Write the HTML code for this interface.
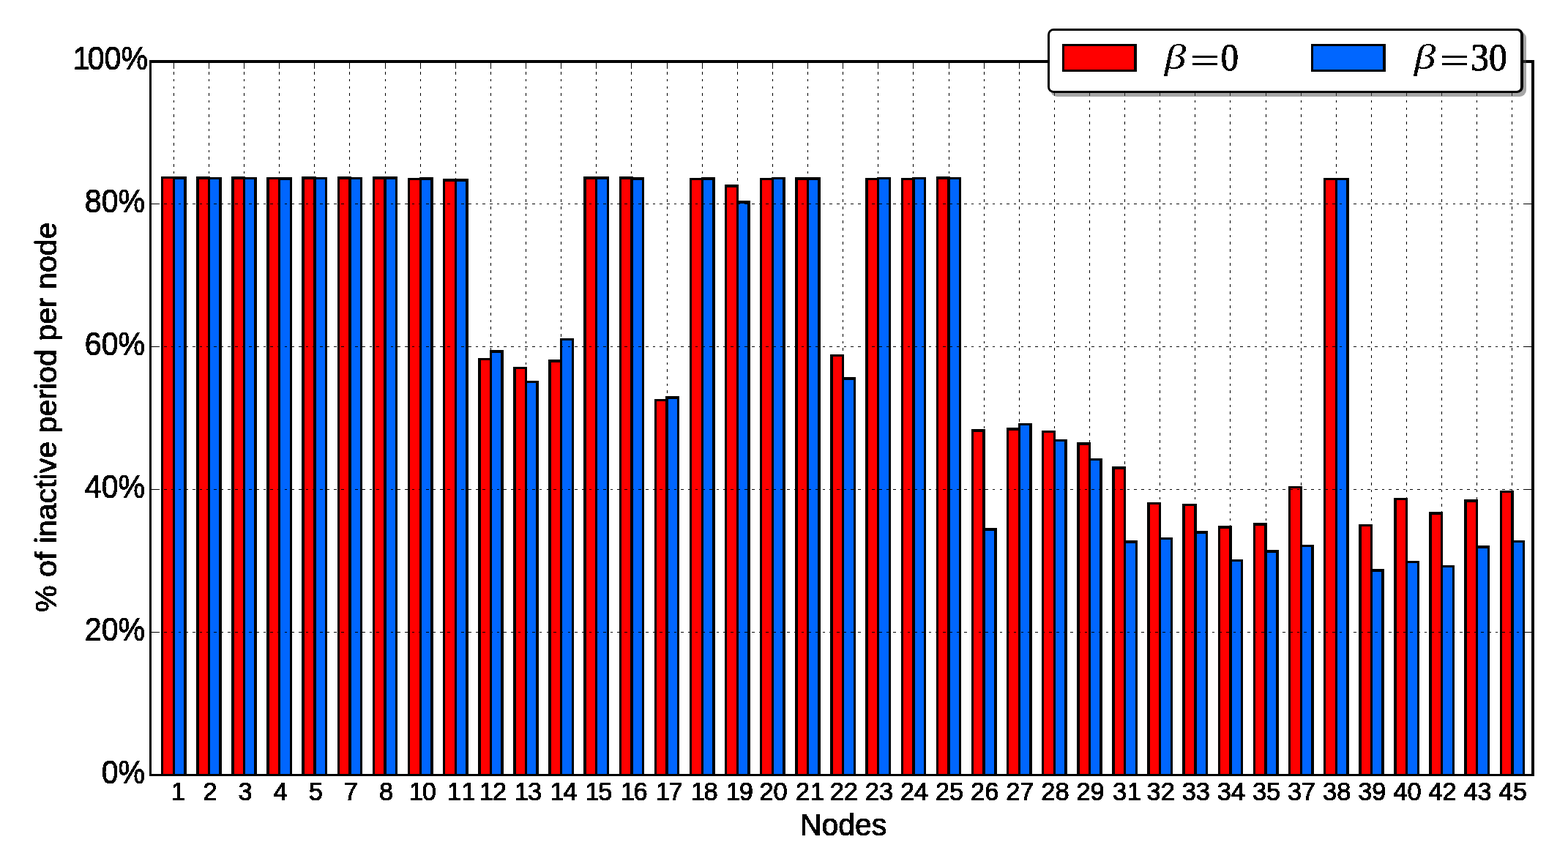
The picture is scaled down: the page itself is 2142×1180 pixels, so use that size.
<!DOCTYPE html>
<html lang="en"><head><meta charset="utf-8"><title>% of inactive period per node</title>
<style>html,body{margin:0;padding:0;background:#fff;}svg{display:block;}.t{font-family:"Liberation Sans",sans-serif;fill:#000;stroke:#000;stroke-width:1.0px;stroke-linejoin:round;}.m{font-family:"Liberation Serif",serif;fill:#000;}.d{stroke:#000;stroke-width:1.1px;stroke-linejoin:round;}.e{stroke:#000;stroke-width:0.5px;vector-effect:non-scaling-stroke;}.g{stroke:#000;stroke-width:1;fill:none;shape-rendering:crispEdges;}.b{stroke:#000;stroke-width:3.2;}</style></head><body>
<svg width="2142" height="1180" viewBox="0 0 2142 1180">
<defs><filter id="bin" x="-5%" y="-5%" width="110%" height="110%" color-interpolation-filters="sRGB"><feComponentTransfer><feFuncA type="discrete" tableValues="0 1"/></feComponentTransfer></filter></defs>
<rect x="0" y="0" width="2142" height="1180" fill="#fff"/>
<g><path fill="#ff0000" d="M222 243H237V1058.5H222Z"/><path fill="#0066ff" d="M238 244H252V1058.5H238Z"/><path fill="#ff0000" d="M271 244H285V1058.5H271Z"/><path fill="#0066ff" d="M286 244H300V1058.5H286Z"/><path fill="#ff0000" d="M319 244H333V1058.5H319Z"/><path fill="#0066ff" d="M334 244H348V1058.5H334Z"/><path fill="#ff0000" d="M367 244H381V1058.5H367Z"/><path fill="#0066ff" d="M382 245H397V1058.5H382Z"/><path fill="#ff0000" d="M415 244H429V1058.5H415Z"/><path fill="#0066ff" d="M431 244H445V1058.5H431Z"/><path fill="#ff0000" d="M463 244H477V1058.5H463Z"/><path fill="#0066ff" d="M479 244H493V1058.5H479Z"/><path fill="#ff0000" d="M511 244H525V1058.5H511Z"/><path fill="#0066ff" d="M527 244H541V1058.5H527Z"/><path fill="#ff0000" d="M559 245H574V1058.5H559Z"/><path fill="#0066ff" d="M575 245H589V1058.5H575Z"/><path fill="#ff0000" d="M607 247H622V1058.5H607Z"/><path fill="#0066ff" d="M623 247H637V1058.5H623Z"/><path fill="#ff0000" d="M656 491H670V1058.5H656Z"/><path fill="#0066ff" d="M671 481H685V1058.5H671Z"/><path fill="#ff0000" d="M704 503H718V1058.5H704Z"/><path fill="#0066ff" d="M719 522H733V1058.5H719Z"/><path fill="#ff0000" d="M752 494H766V1058.5H752Z"/><path fill="#0066ff" d="M767 464H782V1058.5H767Z"/><path fill="#ff0000" d="M800 244H814V1058.5H800Z"/><path fill="#0066ff" d="M815 244H830V1058.5H815Z"/><path fill="#ff0000" d="M848 244H862V1058.5H848Z"/><path fill="#0066ff" d="M864 245H878V1058.5H864Z"/><path fill="#ff0000" d="M896 547H910V1058.5H896Z"/><path fill="#0066ff" d="M912 544H926V1058.5H912Z"/><path fill="#ff0000" d="M944 245H959V1058.5H944Z"/><path fill="#0066ff" d="M960 245H974V1058.5H960Z"/><path fill="#ff0000" d="M992 255H1007V1058.5H992Z"/><path fill="#0066ff" d="M1008 277H1022V1058.5H1008Z"/><path fill="#ff0000" d="M1040 245H1055V1058.5H1040Z"/><path fill="#0066ff" d="M1056 244H1070V1058.5H1056Z"/><path fill="#ff0000" d="M1089 245H1103V1058.5H1089Z"/><path fill="#0066ff" d="M1104 245H1118V1058.5H1104Z"/><path fill="#ff0000" d="M1137 486H1151V1058.5H1137Z"/><path fill="#0066ff" d="M1152 518H1167V1058.5H1152Z"/><path fill="#ff0000" d="M1185 245H1199V1058.5H1185Z"/><path fill="#0066ff" d="M1200 244H1215V1058.5H1200Z"/><path fill="#ff0000" d="M1233 245H1247V1058.5H1233Z"/><path fill="#0066ff" d="M1249 244H1263V1058.5H1249Z"/><path fill="#ff0000" d="M1281 244H1295V1058.5H1281Z"/><path fill="#0066ff" d="M1297 244H1311V1058.5H1297Z"/><path fill="#ff0000" d="M1329 589H1343V1058.5H1329Z"/><path fill="#0066ff" d="M1345 724H1359V1058.5H1345Z"/><path fill="#ff0000" d="M1377 587H1392V1058.5H1377Z"/><path fill="#0066ff" d="M1393 580H1407V1058.5H1393Z"/><path fill="#ff0000" d="M1425 590H1440V1058.5H1425Z"/><path fill="#0066ff" d="M1441 602H1455V1058.5H1441Z"/><path fill="#ff0000" d="M1474 607H1488V1058.5H1474Z"/><path fill="#0066ff" d="M1489 628H1503V1058.5H1489Z"/><path fill="#ff0000" d="M1522 640H1536V1058.5H1522Z"/><path fill="#0066ff" d="M1537 741H1552V1058.5H1537Z"/><path fill="#ff0000" d="M1570 688H1584V1058.5H1570Z"/><path fill="#0066ff" d="M1585 736H1600V1058.5H1585Z"/><path fill="#ff0000" d="M1618 690H1632V1058.5H1618Z"/><path fill="#0066ff" d="M1634 728H1648V1058.5H1634Z"/><path fill="#ff0000" d="M1666 721H1680V1058.5H1666Z"/><path fill="#0066ff" d="M1682 766H1696V1058.5H1682Z"/><path fill="#ff0000" d="M1714 717H1728V1058.5H1714Z"/><path fill="#0066ff" d="M1730 754H1744V1058.5H1730Z"/><path fill="#ff0000" d="M1762 666H1777V1058.5H1762Z"/><path fill="#0066ff" d="M1778 746H1792V1058.5H1778Z"/><path fill="#ff0000" d="M1810 245H1825V1058.5H1810Z"/><path fill="#0066ff" d="M1826 245H1840V1058.5H1826Z"/><path fill="#ff0000" d="M1859 718H1873V1058.5H1859Z"/><path fill="#0066ff" d="M1874 780H1888V1058.5H1874Z"/><path fill="#ff0000" d="M1907 682H1921V1058.5H1907Z"/><path fill="#0066ff" d="M1922 768H1937V1058.5H1922Z"/><path fill="#ff0000" d="M1955 702H1969V1058.5H1955Z"/><path fill="#0066ff" d="M1970 774H1985V1058.5H1970Z"/><path fill="#ff0000" d="M2003 685H2017V1058.5H2003Z"/><path fill="#0066ff" d="M2018 748H2033V1058.5H2018Z"/><path fill="#ff0000" d="M2051 672H2065V1058.5H2051Z"/><path fill="#0066ff" d="M2067 740H2081V1058.5H2067Z"/></g>
<path fill="#000" fill-rule="nonzero" d="M220 241H223V1058.5H220ZM251 241H255V1058.5H251ZM236 241H239V1058.5H236ZM220 241H239V244H220ZM236 241H255V245H236ZM268 241H272V1058.5H268ZM299 242H303V1058.5H299ZM284 241H287V1058.5H284ZM268 241H287V245H268ZM284 242H303V245H284ZM316 241H320V1058.5H316ZM347 242H351V1058.5H347ZM332 241H335V1058.5H332ZM316 241H335V245H316ZM332 242H351V245H332ZM364 242H368V1058.5H364ZM396 242H399V1058.5H396ZM380 242H383V1058.5H380ZM364 242H383V245H364ZM380 242H399V246H380ZM412 241H416V1058.5H412ZM444 242H447V1058.5H444ZM428 241H432V1058.5H428ZM412 241H432V245H412ZM428 242H447V245H428ZM461 241H464V1058.5H461ZM492 242H495V1058.5H492ZM476 241H480V1058.5H476ZM461 241H480V245H461ZM476 242H495V245H476ZM509 241H512V1058.5H509ZM540 241H543V1058.5H540ZM524 241H528V1058.5H524ZM509 241H528V245H509ZM524 241H543V245H524ZM557 243H560V1058.5H557ZM588 242H592V1058.5H588ZM573 242H576V1058.5H573ZM557 243H576V246H557ZM573 242H592V246H573ZM605 244H608V1058.5H605ZM636 244H640V1058.5H636ZM621 244H624V1058.5H621ZM605 244H624V248H605ZM621 244H640V248H621ZM653 489H657V1058.5H653ZM684 478H688V1058.5H684ZM669 478H672V1058.5H669ZM653 489H672V492H653ZM669 478H688V482H669ZM701 501H705V1058.5H701ZM732 520H736V1058.5H732ZM717 501H720V1058.5H717ZM701 501H720V504H701ZM717 520H736V523H717ZM749 491H753V1058.5H749ZM781 462H784V1058.5H781ZM765 462H768V1058.5H765ZM749 491H768V495H749ZM765 462H784V465H765ZM797 241H801V1058.5H797ZM829 241H832V1058.5H829ZM813 241H816V1058.5H813ZM797 241H816V245H797ZM813 241H832V245H813ZM846 241H849V1058.5H846ZM877 242H880V1058.5H877ZM861 241H865V1058.5H861ZM846 241H865V245H846ZM861 242H880V246H861ZM894 545H897V1058.5H894ZM925 541H928V1058.5H925ZM909 541H913V1058.5H909ZM894 545H913V548H894ZM909 541H928V545H909ZM942 243H945V1058.5H942ZM973 242H977V1058.5H973ZM958 242H961V1058.5H958ZM942 243H961V246H942ZM958 242H977V246H958ZM990 252H993V1058.5H990ZM1021 274H1025V1058.5H1021ZM1006 252H1009V1058.5H1006ZM990 252H1009V256H990ZM1006 274H1025V278H1006ZM1038 243H1041V1058.5H1038ZM1069 242H1073V1058.5H1069ZM1054 242H1057V1058.5H1054ZM1038 243H1057V246H1038ZM1054 242H1073V245H1054ZM1086 242H1090V1058.5H1086ZM1117 242H1121V1058.5H1117ZM1102 242H1105V1058.5H1102ZM1086 242H1105V246H1086ZM1102 242H1121V246H1102ZM1134 484H1138V1058.5H1134ZM1166 515H1169V1058.5H1166ZM1150 484H1153V1058.5H1150ZM1134 484H1153V487H1134ZM1150 515H1169V519H1150ZM1182 243H1186V1058.5H1182ZM1214 242H1217V1058.5H1214ZM1198 242H1201V1058.5H1198ZM1182 243H1201V246H1182ZM1198 242H1217V245H1198ZM1231 243H1234V1058.5H1231ZM1262 242H1265V1058.5H1262ZM1246 242H1250V1058.5H1246ZM1231 243H1250V246H1231ZM1246 242H1265V245H1246ZM1279 241H1282V1058.5H1279ZM1310 242H1313V1058.5H1310ZM1294 241H1298V1058.5H1294ZM1279 241H1298V245H1279ZM1294 242H1313V245H1294ZM1327 586H1330V1058.5H1327ZM1358 721H1362V1058.5H1358ZM1342 586H1346V1058.5H1342ZM1327 586H1346V590H1327ZM1342 721H1362V725H1342ZM1375 584H1378V1058.5H1375ZM1406 578H1410V1058.5H1406ZM1391 578H1394V1058.5H1391ZM1375 584H1394V588H1375ZM1391 578H1410V581H1391ZM1423 588H1426V1058.5H1423ZM1454 600H1458V1058.5H1454ZM1439 588H1442V1058.5H1439ZM1423 588H1442V591H1423ZM1439 600H1458V603H1439ZM1471 604H1475V1058.5H1471ZM1502 626H1506V1058.5H1502ZM1487 604H1490V1058.5H1487ZM1471 604H1490V608H1471ZM1487 626H1506V629H1487ZM1519 637H1523V1058.5H1519ZM1551 738H1554V1058.5H1551ZM1535 637H1538V1058.5H1535ZM1519 637H1538V641H1519ZM1535 738H1554V742H1535ZM1567 686H1571V1058.5H1567ZM1599 734H1602V1058.5H1599ZM1583 686H1586V1058.5H1583ZM1567 686H1586V689H1567ZM1583 734H1602V737H1583ZM1615 688H1619V1058.5H1615ZM1647 725H1650V1058.5H1647ZM1631 688H1635V1058.5H1631ZM1615 688H1635V691H1615ZM1631 725H1650V729H1631ZM1664 718H1667V1058.5H1664ZM1695 764H1698V1058.5H1695ZM1679 718H1683V1058.5H1679ZM1664 718H1683V722H1664ZM1679 764H1698V767H1679ZM1712 714H1715V1058.5H1712ZM1743 751H1747V1058.5H1743ZM1727 714H1731V1058.5H1727ZM1712 714H1731V718H1712ZM1727 751H1747V755H1727ZM1760 664H1763V1058.5H1760ZM1791 744H1795V1058.5H1791ZM1776 664H1779V1058.5H1776ZM1760 664H1779V667H1760ZM1776 744H1795V747H1776ZM1808 243H1811V1058.5H1808ZM1839 243H1843V1058.5H1839ZM1824 243H1827V1058.5H1824ZM1808 243H1827V246H1808ZM1824 243H1843V246H1824ZM1856 716H1860V1058.5H1856ZM1887 777H1891V1058.5H1887ZM1872 716H1875V1058.5H1872ZM1856 716H1875V719H1856ZM1872 777H1891V781H1872ZM1904 680H1908V1058.5H1904ZM1936 766H1939V1058.5H1936ZM1920 680H1923V1058.5H1920ZM1904 680H1923V683H1904ZM1920 766H1939V769H1920ZM1952 699H1956V1058.5H1952ZM1984 772H1987V1058.5H1984ZM1968 699H1971V1058.5H1968ZM1952 699H1971V703H1952ZM1968 772H1987V775H1968ZM2000 682H2004V1058.5H2000ZM2032 745H2035V1058.5H2032ZM2016 682H2019V1058.5H2016ZM2000 682H2019V686H2000ZM2016 745H2035V749H2016ZM2049 670H2052V1058.5H2049ZM2080 738H2083V1058.5H2080ZM2064 670H2068V1058.5H2064ZM2049 670H2068V673H2049ZM2064 738H2083V741H2064Z"/>
<g class="g" stroke-width="1.2" stroke-dasharray="3.63 6.042">
<line x1="237.5" y1="1059.34" x2="237.5" y2="83.8"/>
<line x1="285.5" y1="1059.34" x2="285.5" y2="83.8"/>
<line x1="333.5" y1="1059.34" x2="333.5" y2="83.8"/>
<line x1="381.5" y1="1059.34" x2="381.5" y2="83.8"/>
<line x1="429.5" y1="1059.34" x2="429.5" y2="83.8"/>
<line x1="477.5" y1="1059.34" x2="477.5" y2="83.8"/>
<line x1="526.5" y1="1059.34" x2="526.5" y2="83.8"/>
<line x1="574.5" y1="1059.34" x2="574.5" y2="83.8"/>
<line x1="622.5" y1="1059.34" x2="622.5" y2="83.8"/>
<line x1="670.5" y1="1059.34" x2="670.5" y2="83.8"/>
<line x1="718.5" y1="1059.34" x2="718.5" y2="83.8"/>
<line x1="766.5" y1="1059.34" x2="766.5" y2="83.8"/>
<line x1="814.5" y1="1059.34" x2="814.5" y2="83.8"/>
<line x1="862.5" y1="1059.34" x2="862.5" y2="83.8"/>
<line x1="911.5" y1="1059.34" x2="911.5" y2="83.8"/>
<line x1="959.5" y1="1059.34" x2="959.5" y2="83.8"/>
<line x1="1007.5" y1="1059.34" x2="1007.5" y2="83.8"/>
<line x1="1055.5" y1="1059.34" x2="1055.5" y2="83.8"/>
<line x1="1103.5" y1="1059.34" x2="1103.5" y2="83.8"/>
<line x1="1151.5" y1="1059.34" x2="1151.5" y2="83.8"/>
<line x1="1199.5" y1="1059.34" x2="1199.5" y2="83.8"/>
<line x1="1247.5" y1="1059.34" x2="1247.5" y2="83.8"/>
<line x1="1296.5" y1="1059.34" x2="1296.5" y2="83.8"/>
<line x1="1344.5" y1="1059.34" x2="1344.5" y2="83.8"/>
<line x1="1392.5" y1="1059.34" x2="1392.5" y2="83.8"/>
<line x1="1440.5" y1="1059.34" x2="1440.5" y2="83.8"/>
<line x1="1488.5" y1="1059.34" x2="1488.5" y2="83.8"/>
<line x1="1536.5" y1="1059.34" x2="1536.5" y2="83.8"/>
<line x1="1584.5" y1="1059.34" x2="1584.5" y2="83.8"/>
<line x1="1632.5" y1="1059.34" x2="1632.5" y2="83.8"/>
<line x1="1680.5" y1="1059.34" x2="1680.5" y2="83.8"/>
<line x1="1729.5" y1="1059.34" x2="1729.5" y2="83.8"/>
<line x1="1777.5" y1="1059.34" x2="1777.5" y2="83.8"/>
<line x1="1825.5" y1="1059.34" x2="1825.5" y2="83.8"/>
<line x1="1873.5" y1="1059.34" x2="1873.5" y2="83.8"/>
<line x1="1921.5" y1="1059.34" x2="1921.5" y2="83.8"/>
<line x1="1969.5" y1="1059.34" x2="1969.5" y2="83.8"/>
<line x1="2017.5" y1="1059.34" x2="2017.5" y2="83.8"/>
<line x1="2065.5" y1="1059.34" x2="2065.5" y2="83.8"/>
<line x1="204.88" y1="863.5" x2="2094.0" y2="863.5"/>
<line x1="204.88" y1="668.5" x2="2094.0" y2="668.5"/>
<line x1="204.88" y1="473.5" x2="2094.0" y2="473.5"/>
<line x1="204.88" y1="278.5" x2="2094.0" y2="278.5"/>
</g>
<g class="g">
<line x1="237.5" y1="83.8" x2="237.5" y2="93.5"/>
<line x1="285.5" y1="83.8" x2="285.5" y2="93.5"/>
<line x1="333.5" y1="83.8" x2="333.5" y2="93.5"/>
<line x1="381.5" y1="83.8" x2="381.5" y2="93.5"/>
<line x1="429.5" y1="83.8" x2="429.5" y2="93.5"/>
<line x1="477.5" y1="83.8" x2="477.5" y2="93.5"/>
<line x1="526.5" y1="83.8" x2="526.5" y2="93.5"/>
<line x1="574.5" y1="83.8" x2="574.5" y2="93.5"/>
<line x1="622.5" y1="83.8" x2="622.5" y2="93.5"/>
<line x1="670.5" y1="83.8" x2="670.5" y2="93.5"/>
<line x1="718.5" y1="83.8" x2="718.5" y2="93.5"/>
<line x1="766.5" y1="83.8" x2="766.5" y2="93.5"/>
<line x1="814.5" y1="83.8" x2="814.5" y2="93.5"/>
<line x1="862.5" y1="83.8" x2="862.5" y2="93.5"/>
<line x1="911.5" y1="83.8" x2="911.5" y2="93.5"/>
<line x1="959.5" y1="83.8" x2="959.5" y2="93.5"/>
<line x1="1007.5" y1="83.8" x2="1007.5" y2="93.5"/>
<line x1="1055.5" y1="83.8" x2="1055.5" y2="93.5"/>
<line x1="1103.5" y1="83.8" x2="1103.5" y2="93.5"/>
<line x1="1151.5" y1="83.8" x2="1151.5" y2="93.5"/>
<line x1="1199.5" y1="83.8" x2="1199.5" y2="93.5"/>
<line x1="1247.5" y1="83.8" x2="1247.5" y2="93.5"/>
<line x1="1296.5" y1="83.8" x2="1296.5" y2="93.5"/>
<line x1="1344.5" y1="83.8" x2="1344.5" y2="93.5"/>
<line x1="1392.5" y1="83.8" x2="1392.5" y2="93.5"/>
<line x1="1440.5" y1="83.8" x2="1440.5" y2="93.5"/>
<line x1="1488.5" y1="83.8" x2="1488.5" y2="93.5"/>
<line x1="1536.5" y1="83.8" x2="1536.5" y2="93.5"/>
<line x1="1584.5" y1="83.8" x2="1584.5" y2="93.5"/>
<line x1="1632.5" y1="83.8" x2="1632.5" y2="93.5"/>
<line x1="1680.5" y1="83.8" x2="1680.5" y2="93.5"/>
<line x1="1729.5" y1="83.8" x2="1729.5" y2="93.5"/>
<line x1="1777.5" y1="83.8" x2="1777.5" y2="93.5"/>
<line x1="1825.5" y1="83.8" x2="1825.5" y2="93.5"/>
<line x1="1873.5" y1="83.8" x2="1873.5" y2="93.5"/>
<line x1="1921.5" y1="83.8" x2="1921.5" y2="93.5"/>
<line x1="1969.5" y1="83.8" x2="1969.5" y2="93.5"/>
<line x1="2017.5" y1="83.8" x2="2017.5" y2="93.5"/>
<line x1="2065.5" y1="83.8" x2="2065.5" y2="93.5"/>
<line x1="205.5" y1="1058.5" x2="215.2" y2="1058.5"/>
<line x1="2084.3" y1="1058.5" x2="2094.0" y2="1058.5"/>
<line x1="205.5" y1="863.5" x2="215.2" y2="863.5"/>
<line x1="2084.3" y1="863.5" x2="2094.0" y2="863.5"/>
<line x1="205.5" y1="668.5" x2="215.2" y2="668.5"/>
<line x1="2084.3" y1="668.5" x2="2094.0" y2="668.5"/>
<line x1="205.5" y1="473.5" x2="215.2" y2="473.5"/>
<line x1="2084.3" y1="473.5" x2="2094.0" y2="473.5"/>
<line x1="205.5" y1="278.5" x2="215.2" y2="278.5"/>
<line x1="2084.3" y1="278.5" x2="2094.0" y2="278.5"/>
<line x1="205.5" y1="83.5" x2="215.2" y2="83.5"/>
<line x1="2084.3" y1="83.5" x2="2094.0" y2="83.5"/>
</g>
<g fill="#000">
<rect x="204" y="82" width="1892" height="4"/>
<rect x="204" y="1057" width="1892" height="3"/>
<rect x="204" y="82" width="3" height="978"/>
<rect x="2092" y="82" width="4" height="978"/>
</g>
<g filter="url(#bin)">
<g class="t" font-size="43.8" text-anchor="start">
<text x="-63.3 -38.95" transform="translate(198.2 1069.7) scale(0.94 1)">0%</text>
<text x="-87.66 -63.3 -38.95" transform="translate(198.2 874.7) scale(0.94 1)">20%</text>
<text x="-87.66 -63.3 -38.95" transform="translate(198.2 679.7) scale(0.94 1)">40%</text>
<text x="-87.66 -63.3 -38.95" transform="translate(198.2 484.7) scale(0.94 1)">60%</text>
<text x="-87.66 -63.3 -38.95" transform="translate(198.2 289.7) scale(0.94 1)">80%</text>
<text x="-108.83 -87.66 -63.3 -38.95" transform="translate(202.1 94.7) scale(0.94 1)">100%</text>
</g>
<g class="t" font-size="35.7" text-anchor="start">
<text x="-5.16" transform="translate(238.9 1092.6) scale(0.964 1)">1</text>
<text x="-9.93" transform="translate(287.0 1092.6) scale(0.964 1)">2</text>
<text x="-9.93" transform="translate(335.1 1092.6) scale(0.964 1)">3</text>
<text x="-9.93" transform="translate(383.2 1092.6) scale(0.964 1)">4</text>
<text x="-9.93" transform="translate(431.3 1092.6) scale(0.964 1)">5</text>
<text x="-9.93" transform="translate(479.4 1092.6) scale(0.964 1)">7</text>
<text x="-9.93" transform="translate(527.5 1092.6) scale(0.964 1)">8</text>
<text x="-17.16 1.24" transform="translate(575.6 1092.6) scale(0.964 1)">10</text>
<text x="-13.01 7.16" transform="translate(623.7 1092.6) scale(0.964 1)">11</text>
<text x="-17.16 1.24" transform="translate(671.8 1092.6) scale(0.964 1)">12</text>
<text x="-17.16 1.24" transform="translate(719.9 1092.6) scale(0.964 1)">13</text>
<text x="-17.16 1.24" transform="translate(768.0 1092.6) scale(0.964 1)">14</text>
<text x="-17.16 1.24" transform="translate(816.1 1092.6) scale(0.964 1)">15</text>
<text x="-17.16 1.24" transform="translate(864.2 1092.6) scale(0.964 1)">16</text>
<text x="-17.16 1.24" transform="translate(912.3 1092.6) scale(0.964 1)">17</text>
<text x="-17.16 1.24" transform="translate(960.4 1092.6) scale(0.964 1)">18</text>
<text x="-17.16 1.24" transform="translate(1008.5 1092.6) scale(0.964 1)">19</text>
<text x="-19.85 0" transform="translate(1056.6 1092.6) scale(0.964 1)">20</text>
<text x="-18.3 2.7" transform="translate(1104.7 1092.6) scale(0.964 1)">21</text>
<text x="-19.85 0" transform="translate(1152.8 1092.6) scale(0.964 1)">22</text>
<text x="-19.85 0" transform="translate(1200.9 1092.6) scale(0.964 1)">23</text>
<text x="-19.85 0" transform="translate(1249.0 1092.6) scale(0.964 1)">24</text>
<text x="-19.85 0" transform="translate(1297.1 1092.6) scale(0.964 1)">25</text>
<text x="-19.85 0" transform="translate(1345.2 1092.6) scale(0.964 1)">26</text>
<text x="-19.85 0" transform="translate(1393.3 1092.6) scale(0.964 1)">27</text>
<text x="-19.85 0" transform="translate(1441.4 1092.6) scale(0.964 1)">28</text>
<text x="-19.85 0" transform="translate(1489.5 1092.6) scale(0.964 1)">29</text>
<text x="-18.3 2.7" transform="translate(1537.6 1092.6) scale(0.964 1)">31</text>
<text x="-19.85 0" transform="translate(1585.7 1092.6) scale(0.964 1)">32</text>
<text x="-19.85 0" transform="translate(1633.8 1092.6) scale(0.964 1)">33</text>
<text x="-19.85 0" transform="translate(1681.9 1092.6) scale(0.964 1)">34</text>
<text x="-19.85 0" transform="translate(1730.0 1092.6) scale(0.964 1)">35</text>
<text x="-19.85 0" transform="translate(1778.1 1092.6) scale(0.964 1)">37</text>
<text x="-19.85 0" transform="translate(1826.2 1092.6) scale(0.964 1)">38</text>
<text x="-19.85 0" transform="translate(1874.3 1092.6) scale(0.964 1)">39</text>
<text x="-19.85 0" transform="translate(1922.4 1092.6) scale(0.964 1)">40</text>
<text x="-19.85 0" transform="translate(1970.5 1092.6) scale(0.964 1)">42</text>
<text x="-19.85 0" transform="translate(2018.6 1092.6) scale(0.964 1)">43</text>
<text x="-19.85 0" transform="translate(2066.7 1092.6) scale(0.964 1)">45</text>
</g>
<text class="t" font-size="42.6" text-anchor="middle" transform="translate(1152.1 1140.7) scale(0.961 1)">Nodes</text>
<text class="t" font-size="41.5" text-anchor="middle" transform="translate(76.9 569.8) rotate(-90) scale(0.991 1)">% of inactive period per node</text>
</g>
<path d="M1444 43H2076A9 9 0 0 1 2085 52V123A9 9 0 0 1 2076 132H1444A9 9 0 0 1 1435 123V52A9 9 0 0 1 1444 43Z" fill="#4d4d4d" fill-opacity="0.5"/>
<path d="M1439.5 39H2072.5A8.5 8.5 0 0 1 2081 47.5V118.5A8.5 8.5 0 0 1 2072.5 127H1439.5A8.5 8.5 0 0 1 1431 118.5V47.5A8.5 8.5 0 0 1 1439.5 39Z" fill="#000"/>
<path d="M1439 42H2072A5 5 0 0 1 2077 47V119A5 5 0 0 1 2072 124H1439A5 5 0 0 1 1434 119V47A5 5 0 0 1 1439 42Z" fill="#fff"/>
<rect x="1451" y="60" width="102" height="38" fill="#000"/>
<rect x="1454" y="63" width="95" height="32" fill="#ff0000"/>
<rect x="1791" y="60" width="102" height="38" fill="#000"/>
<rect x="1794" y="63" width="95" height="32" fill="#0066ff"/>
<g class="m" filter="url(#bin)">
<text y="94.47" font-size="48.6"><tspan x="1590.65" font-style="italic" textLength="29.46" lengthAdjust="spacingAndGlyphs">β</tspan><tspan class="e" x="1625.45" dy="4.93" font-size="51" textLength="40.73" lengthAdjust="spacingAndGlyphs">=</tspan><tspan class="d" x="1667.70" dy="-3.7" font-size="51.8" textLength="24.22" lengthAdjust="spacingAndGlyphs">0</tspan></text>
<text y="94.47" font-size="48.6"><tspan x="1931.85" font-style="italic" textLength="29.46" lengthAdjust="spacingAndGlyphs">β</tspan><tspan class="e" x="1966.65" dy="4.93" font-size="51" textLength="40.73" lengthAdjust="spacingAndGlyphs">=</tspan><tspan class="d" x="2009.30" dy="-3.7" font-size="51.8" textLength="49.37" lengthAdjust="spacingAndGlyphs">30</tspan></text>
</g>
</svg></body></html>
